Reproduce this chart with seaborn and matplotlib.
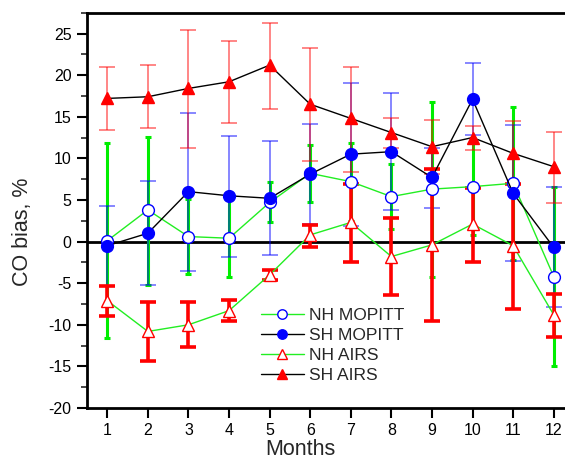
import matplotlib
matplotlib.use("Agg")
import matplotlib.pyplot as plt
from matplotlib.ticker import MultipleLocator
import seaborn as sns
import pandas as pd

months = list(range(1, 13))

# NH MOPITT (open blue circles, green line, green error bars)
nh_mopitt = [0.1, 3.8, 0.6, 0.4, 4.7, 8.2, 7.2, 5.4, 6.3, 6.6, 7.0, -4.2]
nh_mopitt_lo = [-11.6, -5.2, -3.9, -4.3, 2.3, 4.8, 2.5, 1.5, -4.2, 0.8, -2.2, -14.9]
nh_mopitt_hi = [11.8, 12.6, 5.1, 5.1, 7.1, 11.6, 11.9, 9.3, 16.8, 12.4, 16.2, 6.5]

# SH MOPITT (filled blue circles, black line, blue error bars)
sh_mopitt = [-0.5, 1.0, 6.0, 5.5, 5.2, 8.1, 10.5, 10.8, 7.7, 17.1, 5.8, -0.7]
sh_mopitt_lo = [-5.3, -5.2, -3.5, -1.8, -1.6, 2.1, 1.9, 3.8, 4.0, 12.8, -2.3, -7.9]
sh_mopitt_hi = [4.3, 7.3, 15.5, 12.7, 12.1, 14.1, 19.1, 17.8, 11.3, 21.4, 14.0, 6.5]

# NH AIRS (open red triangles, green line, thick red error bars)
nh_airs = [-7.1, -10.8, -10.0, -8.3, -4.0, 0.8, 2.3, -1.8, -0.4, 2.1, -0.5, -8.8]
nh_airs_lo = [-9.0, -14.4, -12.7, -9.6, -4.6, -0.7, -2.4, -6.4, -9.5, -2.4, -8.1, -11.5]
nh_airs_hi = [-5.3, -7.3, -7.3, -7.0, -3.4, 2.0, 6.9, 2.8, 8.7, 6.4, 6.9, -6.3]

# SH AIRS (filled red triangles, black line, thin red error bars)
sh_airs = [17.2, 17.4, 18.4, 19.2, 21.2, 16.5, 14.8, 13.1, 11.4, 12.5, 10.6, 9.0]
sh_airs_lo = [13.4, 13.6, 11.3, 14.3, 15.9, 9.7, 8.4, 11.2, 8.1, 11.0, 6.9, 4.6]
sh_airs_hi = [21.0, 21.2, 25.4, 24.1, 26.3, 23.2, 21.0, 14.9, 14.6, 13.9, 14.5, 13.2]

sns.set_style("ticks")
plt.rcParams["font.family"] = ["Liberation Sans", "DejaVu Sans"]
plt.rcParams["axes.unicode_minus"] = False

fig = plt.figure(figsize=(5.65, 4.62), dpi=100)
ax = fig.add_axes([87 / 565, 54 / 462, 487 / 565, 395.3 / 462])

ax.axhline(0, color="black", lw=2, zorder=1)


def bars(y, lo, hi, color, lw, cap, capw, alpha):
    err = [[a - b for a, b in zip(y, lo)], [b - a for a, b in zip(y, hi)]]
    ax.errorbar(months, y, yerr=err, fmt="none", ecolor=color, elinewidth=lw,
                capsize=cap, capthick=capw, alpha=alpha, zorder=2)


bars(nh_mopitt, nh_mopitt_lo, nh_mopitt_hi, "#00ee00", 2.2, 2.5, 2.2, 1.0)
bars(sh_mopitt, sh_mopitt_lo, sh_mopitt_hi, "blue", 1.1, 5.5, 1.1, 0.6)
bars(nh_airs, nh_airs_lo, nh_airs_hi, "red", 2.6, 6, 2.6, 1.0)
bars(sh_airs, sh_airs_lo, sh_airs_hi, "red", 1.1, 5.5, 1.1, 0.6)

df = pd.DataFrame({"month": months, "nh_mopitt": nh_mopitt, "sh_mopitt": sh_mopitt,
                   "nh_airs": nh_airs, "sh_airs": sh_airs})

ms = 8.5
sns.lineplot(data=df, x="month", y="nh_mopitt", ax=ax, color="#22ee22", lw=1,
             marker="o", ms=ms, mfc="white", mec="blue", mew=1, label="NH MOPITT", zorder=3)
sns.lineplot(data=df, x="month", y="sh_mopitt", ax=ax, color="black", lw=1,
             marker="o", ms=ms, mfc="blue", mec="blue", mew=1, label="SH MOPITT", zorder=3)
sns.lineplot(data=df, x="month", y="nh_airs", ax=ax, color="#22ee22", lw=1,
             marker="^", ms=ms, mfc="white", mec="red", mew=1, label="NH AIRS", zorder=3)
sns.lineplot(data=df, x="month", y="sh_airs", ax=ax, color="black", lw=1,
             marker="^", ms=ms, mfc="red", mec="red", mew=1, label="SH AIRS", zorder=3)

ax.set_xlim(0.5, 12.5)
ax.set_ylim(-20, 27.5)
ax.set_xticks(months)
ax.yaxis.set_major_locator(MultipleLocator(5))
ax.yaxis.set_minor_locator(MultipleLocator(2.5))
ax.tick_params(axis="both", which="major", direction="out", length=7, width=1.5,
               labelsize=11.5, colors="black", top=False, right=False, pad=4)
ax.tick_params(axis="y", which="minor", direction="out", length=4, width=1.2, right=False)
for s in ax.spines.values():
    s.set_linewidth(2)
    s.set_color("black")
    s.set_visible(True)

ax.set_xlabel("Months", fontsize=15.5, va="bottom")
ax.set_ylabel("CO bias, %", fontsize=15.5)
ax.xaxis.set_label_coords(0.439, -0.132)
ax.yaxis.set_label_coords(-0.111, 0.445)

leg = ax.legend(loc="upper left", bbox_to_anchor=(252 / 565, 1 - 299 / 462),
                bbox_transform=fig.transFigure, frameon=False, fontsize=12.5,
                handlelength=2.5, handletextpad=0.3, labelspacing=0.28, borderpad=0,
                markerscale=0.8)

fig.savefig("out.png", dpi=100)
